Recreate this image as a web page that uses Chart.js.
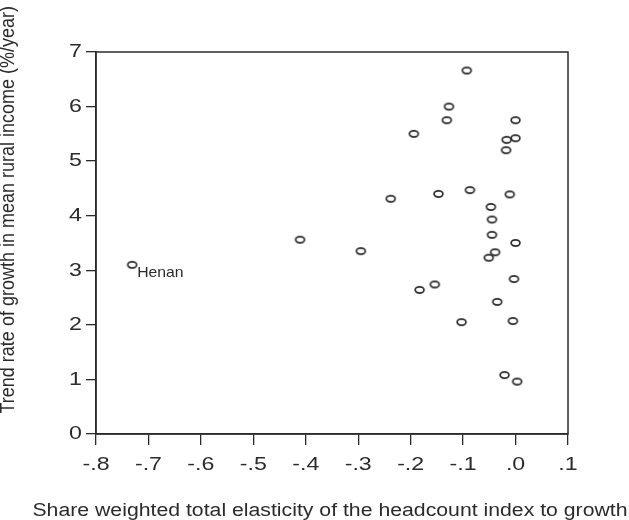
<!DOCTYPE html>
<html>
<head>
<meta charset="utf-8">
<script src="https://cdn.jsdelivr.net/npm/chart.js@4"></script>
<style>
  html, body { margin: 0; padding: 0; background: #ffffff; }
  #wrap { width: 629px; height: 520px; }
</style>
</head>
<body>
<div id="wrap"><canvas id="chart" width="629" height="520"></canvas></div>
<script>
// elasticity (x) and trend growth rate (y)
const elasticity = [-0.731, -0.411, -0.295, -0.238, -0.194, -0.147, -0.127, -0.131,
    -0.093, -0.087, -0.183, -0.154, -0.103, 0.000, -0.017, 0.000, -0.018, -0.011,
    -0.047, -0.045, -0.045, 0.000, -0.039, -0.051, -0.003, -0.035, -0.005, -0.021, 0.003];
const growthRate = [3.10, 3.56, 3.35, 4.31, 5.50, 4.40, 6.00, 5.75,
    6.66, 4.47, 2.64, 2.74, 2.05, 5.75, 5.39, 5.42, 5.20, 4.39,
    4.16, 3.93, 3.65, 3.50, 3.33, 3.23, 2.84, 2.42, 2.07, 1.08, 0.96];
const pointNames = ['Henan'];   // only the first point is labelled

const xTicks = [-0.8, -0.7, -0.6, -0.5, -0.4, -0.3, -0.2, -0.1, 0.0, 0.1];
const yTicks = [0, 1, 2, 3, 4, 5, 6, 7];

const xTitle = 'Share weighted total elasticity of the headcount index to growth';
const yTitle = 'Trend rate of growth in mean rural income (%/year)';

const FONT = '"Liberation Sans", Arial, Helvetica, sans-serif';
const INK = '#2b2b2b';

// the source picture has its text a bit stretched sideways
function wideText(ctx, text, x, y, sx, align, baseline) {
    ctx.save();
    ctx.translate(x, y);
    ctx.scale(sx, 1);
    ctx.textAlign = align;
    ctx.textBaseline = baseline;
    ctx.fillText(text, 0, 0);
    ctx.restore();
}

// little open ellipse used as marker
function makeMarker() {
    let c = document.createElement('canvas');
    c.width = 13;
    c.height = 10;
    let ctx = c.getContext('2d');
    ctx.strokeStyle = INK;
    ctx.lineWidth = 1.7;
    ctx.beginPath();
    ctx.ellipse(6.5, 5, 4.4, 3.1, 0, 0, Math.PI * 2);
    ctx.stroke();
    return c;
}

function fmtTick(v) {
    let s = Number(v).toFixed(1);
    if (s === '-0.0') s = '0.0';
    return s.replace('0.', '.');
}

const data = [];
for (let i = 0; i < elasticity.length; i++) {
    data.push({ x: elasticity[i], y: growthRate[i] });
}

const framePlugin = {
    id: 'frame',
    afterDraw(chart) {
        const ctx = chart.ctx;
        const a = chart.chartArea;
        const xs = chart.scales.x, ys = chart.scales.y;
        ctx.save();
        ctx.strokeStyle = INK;
        ctx.lineWidth = 1.5;
        ctx.strokeRect(a.left, a.top, a.right - a.left, a.bottom - a.top);
        ctx.fillStyle = INK;

        // tick labels
        ctx.font = '19px ' + FONT;
        xs.ticks.forEach(t => {
            wideText(ctx, fmtTick(t.value), xs.getPixelForValue(t.value), a.bottom + 31, 1.22, 'center', 'middle');
        });
        ys.ticks.forEach(t => {
            wideText(ctx, String(t.value), a.left - 14, ys.getPixelForValue(t.value), 1.22, 'right', 'middle');
        });

        // point label
        ctx.font = '15px ' + FONT;
        for (let i = 0; i < pointNames.length; i++) {
            wideText(ctx, pointNames[i], xs.getPixelForValue(elasticity[i]) + 5,
                ys.getPixelForValue(growthRate[i]) + 8, 1.05, 'left', 'middle');
        }

        // axis titles
        ctx.font = '18px ' + FONT;
        wideText(ctx, xTitle, 330, 511, 1.18, 'center', 'middle');
        ctx.translate(8, 6);
        ctx.rotate(-Math.PI / 2);
        ctx.scale(1, 1.12);
        ctx.textAlign = 'right';
        ctx.textBaseline = 'middle';
        ctx.fillText(yTitle, 0, 0);
        ctx.restore();
    }
};

const config = {
    type: 'scatter',
    data: {
        datasets: [
            {
                label: 'Provinces',
                data: data,
                pointStyle: makeMarker(),
                pointRadius: 5,
                pointHoverRadius: 5
            }
        ]
    },
    options: {
        responsive: false,
        animation: false,
        events: [],
        layout: { padding: { top: 52, right: 61, left: 0, bottom: 0 } },
        plugins: {
            legend: { display: false },
            tooltip: { enabled: false }
        },
        scales: {
            x: {
                type: 'linear',
                min: -0.8,
                max: 0.1,
                afterBuildTicks: axis => { axis.ticks = xTicks.map(v => ({ value: v })); },
                afterFit: axis => { axis.height = 86; },
                grid: { drawOnChartArea: false, tickLength: 11, color: INK, lineWidth: 1.3 },
                border: { display: true, color: INK, width: 1.5 },
                ticks: { display: false }
            },
            y: {
                type: 'linear',
                min: 0,
                max: 7,
                afterBuildTicks: axis => { axis.ticks = yTicks.map(v => ({ value: v })); },
                afterFit: axis => { axis.width = 96; },
                grid: { drawOnChartArea: false, tickLength: 10, color: INK, lineWidth: 1.3 },
                border: { display: true, color: INK, width: 1.5 },
                ticks: { display: false }
            }
        }
    },
    plugins: [framePlugin]
};

const graph = new Chart(document.getElementById('chart'), config);
</script>
</body>
</html>
